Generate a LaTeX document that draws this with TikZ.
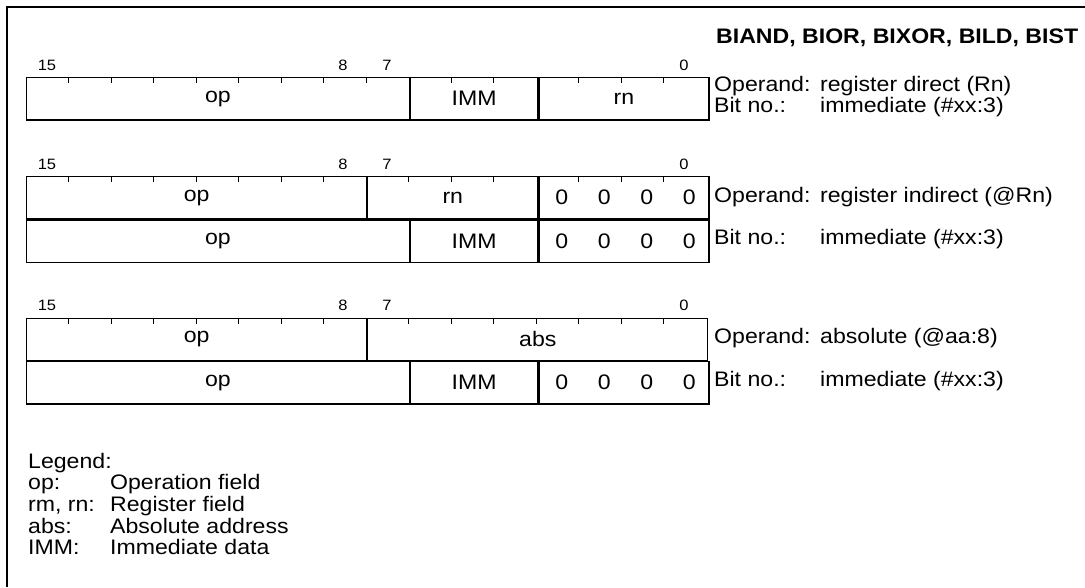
\documentclass[tikz,border=0pt]{standalone}
\usepackage{fontspec}
\setmainfont[FakeStretch=1.1]{Liberation Sans}
\usetikzlibrary{positioning}

\tikzset{
	field/.style = {draw, line width=1.2pt, anchor=north west, inner sep=0pt,
		minimum height=42.3pt, font=\fontsize{21}{25}\selectfont},
	bitnum/.style = {inner sep=0pt, font=\fontsize{15}{18}\selectfont},
	zero/.style = {inner sep=0pt, font=\fontsize{21}{25}\selectfont},
	desc/.style = {anchor=west, inner sep=0pt, font=\fontsize{21}{25}\selectfont},
	legend/.style = {anchor=base west, inner sep=0pt, font=\fontsize{21}{25}\selectfont},
	bittick/.style = {line width=0.9pt},
	frame/.style = {line width=1.6pt}
}
\newcommand{\descline}[2]{\makebox[106pt][l]{#1}#2}
\newcommand{\legline}[2]{\makebox[82pt][l]{#1}#2}

\begin{document}
\begin{tikzpicture}[x=1pt, y=-1pt]
	\useasboundingbox (0,0) rectangle (1085,587);
	\draw[frame] (7,587) -- (7,7) -- (1085,7);

	\node[anchor=west, inner sep=0pt, font=\fontsize{21}{25}\selectfont\bfseries] (title) at (716,38) {BIAND, BIOR, BIXOR, BILD, BIST};

	% register direct
	\coordinate (rowA) at (26,77);
	\node[field, minimum width=382.5pt] (opA) at (rowA) {op};
	\node[field, minimum width=127.5pt, right=0pt of opA] (immA) {IMM};
	\node[field, minimum width=170pt, right=0pt of immA] (rnA) {rn};
	\foreach \k in {1,...,8,10,11,13,14,15}
		\draw[bittick] ([xshift=\k*42.5pt]rowA) -- ++(0,6);
	\node[bitnum] (bA15) at ([xshift=21pt, yshift=12pt]rowA) {15};
	\node[bitnum] (bA8) at ([xshift=317pt, yshift=12pt]rowA) {8};
	\node[bitnum] (bA7) at ([xshift=361pt, yshift=12pt]rowA) {7};
	\node[bitnum] (bA0) at ([xshift=658pt, yshift=12pt]rowA) {0};
	\node[desc] (dA1) at (714,86) {\descline{Operand:}{register direct (Rn)}};
	\node[desc] (dA2) at (714,107) {\descline{Bit no.:}{immediate (\#xx:3)}};

	% register indirect
	\coordinate (rowB) at (26,176);
	\node[field, minimum width=340pt] (opB) at (rowB) {op};
	\node[field, minimum width=170pt, right=0pt of opB] (rnB) {rn};
	\node[field, minimum width=170pt, right=0pt of rnB] (zB) {};
	\node[field, minimum width=382.5pt] (opC) at (opB.south west) {op};
	\node[field, minimum width=127.5pt, right=0pt of opC] (immC) {IMM};
	\node[field, minimum width=170pt, right=0pt of immC] (zC) {};
	\foreach \i in {0,...,3} {
		\node[zero] (zB\i) at ([xshift={23.5pt+\i*42.5pt}]zB.west) {0};
		\node[zero] (zC\i) at ([xshift={23.5pt+\i*42.5pt}]zC.west) {0};
	}
	\foreach \k in {1,...,7,9,10,11,13,14,15}
		\draw[bittick] ([xshift=\k*42.5pt]rowB) -- ++(0,6);
	\node[bitnum] (bB15) at ([xshift=21pt, yshift=12pt]rowB) {15};
	\node[bitnum] (bB8) at ([xshift=317pt, yshift=12pt]rowB) {8};
	\node[bitnum] (bB7) at ([xshift=361pt, yshift=12pt]rowB) {7};
	\node[bitnum] (bB0) at ([xshift=658pt, yshift=12pt]rowB) {0};
	\node[desc] (dB1) at (714,197) {\descline{Operand:}{register indirect (@Rn)}};
	\node[desc] (dB2) at (714,239) {\descline{Bit no.:}{immediate (\#xx:3)}};

	% absolute
	\coordinate (rowD) at (26,317.5);
	\node[field, minimum width=340pt] (opD) at (rowD) {op};
	\node[field, minimum width=340pt, right=0pt of opD] (absD) {abs};
	\node[field, minimum width=382.5pt] (opE) at (opD.south west) {op};
	\node[field, minimum width=127.5pt, right=0pt of opE] (immE) {IMM};
	\node[field, minimum width=170pt, right=0pt of immE] (zE) {};
	\foreach \i in {0,...,3}
		\node[zero] (zE\i) at ([xshift={23.5pt+\i*42.5pt}]zE.west) {0};
	\foreach \k in {1,...,7,9,10,...,15}
		\draw[bittick] ([xshift=\k*42.5pt]rowD) -- ++(0,6);
	\node[bitnum] (bD15) at ([xshift=21pt, yshift=12pt]rowD) {15};
	\node[bitnum] (bD8) at ([xshift=317pt, yshift=12pt]rowD) {8};
	\node[bitnum] (bD7) at ([xshift=361pt, yshift=12pt]rowD) {7};
	\node[bitnum] (bD0) at ([xshift=658pt, yshift=12pt]rowD) {0};
	\node[desc] (dD1) at (714,338.5) {\descline{Operand:}{absolute (@aa:8)}};
	\node[desc] (dD2) at (714,381) {\descline{Bit no.:}{immediate (\#xx:3)}};

	% legend
	\node[legend] (lg0) at (28,468) {Legend:};
	\node[legend] (lg1) at (28,489.7) {\legline{op:}{Operation field}};
	\node[legend] (lg2) at (28,511.4) {\legline{rm, rn:}{Register field}};
	\node[legend] (lg3) at (28,533.1) {\legline{abs:}{Absolute address}};
	\node[legend] (lg4) at (28,554.8) {\legline{IMM:}{Immediate data}};
\end{tikzpicture}
\end{document}
